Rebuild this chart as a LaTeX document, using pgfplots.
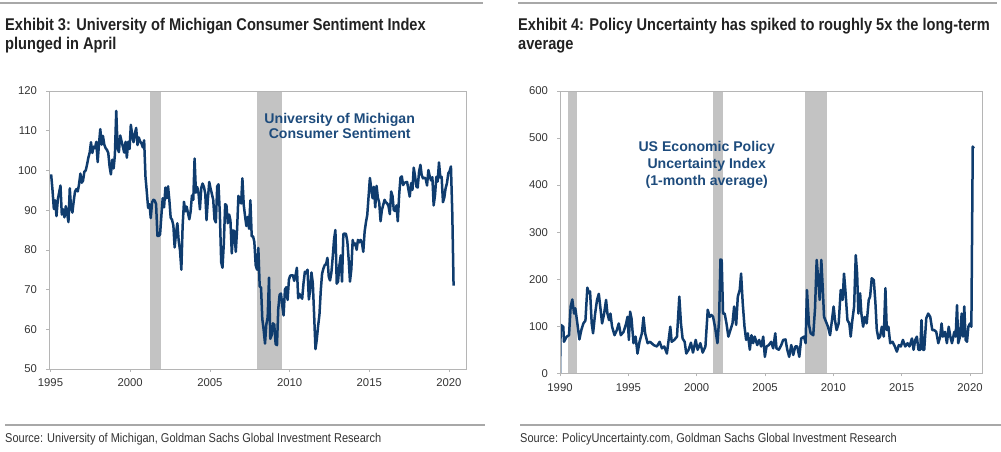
\documentclass[border=0pt]{standalone}
\usepackage{fontspec}
\setmainfont{Liberation Sans}
\newfontfamily\condfont[FakeStretch=0.86]{Liberation Sans}
\usepackage{pgfplots}
\pgfplotsset{compat=1.18}
\definecolor{navy}{HTML}{0F3C6E}
\definecolor{labblue}{HTML}{1D4B7C}
\definecolor{recgray}{HTML}{C3C3C3}
\definecolor{framegray}{HTML}{B5B5B5}
\definecolor{rulegray}{HTML}{A8A8A8}
\definecolor{tickgray}{HTML}{333333}
\definecolor{titlecol}{HTML}{222222}

\pgfplotstableread{
x y
1995.04 99.0
1995.125 95.1
1995.21 90.3
1995.29 92.5
1995.375 88.5
1995.46 92.7
1995.54 94.4
1995.625 96.2
1995.71 88.9
1995.79 90.2
1995.875 88.2
1995.96 91.0
1996.04 89.3
1996.125 87.0
1996.21 95.5
1996.29 90.5
1996.375 89.4
1996.46 92.4
1996.54 94.7
1996.625 95.3
1996.71 94.7
1996.79 96.5
1996.875 99.2
1996.96 96.9
1997.04 97.4
1997.125 99.7
1997.21 100.0
1997.29 101.4
1997.375 103.2
1997.46 104.5
1997.54 107.1
1997.625 104.4
1997.71 106.0
1997.79 105.6
1997.875 107.2
1997.96 102.1
1998.04 106.6
1998.125 110.4
1998.21 106.5
1998.29 108.7
1998.375 106.5
1998.46 105.6
1998.54 105.2
1998.625 104.4
1998.71 100.9
1998.79 99.0
1998.875 102.7
1998.96 100.5
1999.04 103.9
1999.125 115.0
1999.21 105.7
1999.29 104.6
1999.375 108.8
1999.46 107.3
1999.54 106.0
1999.625 104.5
1999.71 107.2
1999.79 103.2
1999.875 107.2
1999.96 105.4
2000.04 111.5
2000.125 109.0
2000.21 107.1
2000.29 109.2
2000.375 110.7
2000.46 106.4
2000.54 108.3
2000.625 107.3
2000.71 106.8
2000.79 105.8
2000.875 107.6
2000.96 98.4
2001.04 94.7
2001.125 90.6
2001.21 91.5
2001.29 88.0
2001.375 92.0
2001.46 92.6
2001.54 92.4
2001.625 91.5
2001.71 83.5
2001.79 83.5
2001.875 83.9
2001.96 88.8
2002.04 93.0
2002.125 90.7
2002.21 95.7
2002.29 93.0
2002.375 96.0
2002.46 92.4
2002.54 88.1
2002.625 87.6
2002.71 86.1
2002.79 80.6
2002.875 84.2
2002.96 86.7
2003.04 82.4
2003.125 79.9
2003.21 75.0
2003.29 86.0
2003.375 92.1
2003.46 89.7
2003.54 90.9
2003.625 89.3
2003.71 87.7
2003.79 89.6
2003.875 93.7
2003.96 92.6
2004.04 103.0
2004.125 94.4
2004.21 95.8
2004.29 94.2
2004.375 90.2
2004.46 95.6
2004.54 96.7
2004.625 95.9
2004.71 94.2
2004.79 87.5
2004.875 92.8
2004.96 97.1
2005.04 95.5
2005.125 94.1
2005.21 92.6
2005.29 87.7
2005.375 86.9
2005.46 96.0
2005.54 96.5
2005.625 89.1
2005.71 76.9
2005.79 75.5
2005.875 81.6
2005.96 91.5
2006.04 91.2
2006.125 86.7
2006.21 88.9
2006.29 87.4
2006.375 79.1
2006.46 84.9
2006.54 84.7
2006.625 79.5
2006.71 85.4
2006.79 93.6
2006.875 92.1
2006.96 91.7
2007.04 98.0
2007.125 91.3
2007.21 88.4
2007.29 86.0
2007.375 88.3
2007.46 85.3
2007.54 92.5
2007.625 83.4
2007.71 83.4
2007.79 82.0
2007.875 76.1
2007.96 75.0
2008.04 80.5
2008.125 70.8
2008.21 70.5
2008.29 62.6
2008.375 59.8
2008.46 56.4
2008.54 61.2
2008.625 63.0
2008.71 73.0
2008.79 57.6
2008.875 58.5
2008.96 61.5
2009.04 61.2
2009.125 56.3
2009.21 56.0
2009.29 65.1
2009.375 68.7
2009.46 69.0
2009.54 66.0
2009.625 63.5
2009.71 70.0
2009.79 70.6
2009.875 67.4
2009.96 72.5
2010.04 73.5
2010.125 73.6
2010.21 73.6
2010.29 72.2
2010.375 73.6
2010.46 75.5
2010.54 67.8
2010.625 68.9
2010.71 68.2
2010.79 67.7
2010.875 71.6
2010.96 74.5
2011.04 74.2
2011.125 75.0
2011.21 67.5
2011.29 69.8
2011.375 74.3
2011.46 71.5
2011.54 63.7
2011.625 55.0
2011.71 57.5
2011.79 60.8
2011.875 63.7
2011.96 69.9
2012.04 74.0
2012.125 75.3
2012.21 76.2
2012.29 76.4
2012.375 78.0
2012.46 73.2
2012.54 72.3
2012.625 74.3
2012.71 78.3
2012.79 82.6
2012.875 85.0
2012.96 71.5
2013.04 72.0
2013.125 76.0
2013.21 78.6
2013.29 72.0
2013.375 84.0
2013.46 84.1
2013.54 84.0
2013.625 82.1
2013.71 77.5
2013.79 72.0
2013.875 75.1
2013.96 82.5
2014.04 81.2
2014.125 81.6
2014.21 80.0
2014.29 82.5
2014.375 81.9
2014.46 82.5
2014.54 81.8
2014.625 79.5
2014.71 84.6
2014.79 86.9
2014.875 88.8
2014.96 93.6
2015.04 98.1
2015.125 95.4
2015.21 93.0
2015.29 95.9
2015.375 90.7
2015.46 96.1
2015.54 93.1
2015.625 91.9
2015.71 87.2
2015.79 90.0
2015.875 91.3
2015.96 92.6
2016.04 92.0
2016.125 91.7
2016.21 91.0
2016.29 89.0
2016.375 94.7
2016.46 93.5
2016.54 90.0
2016.625 89.8
2016.71 91.2
2016.79 87.2
2016.875 93.8
2016.96 98.2
2017.04 98.5
2017.125 96.3
2017.21 96.9
2017.29 97.0
2017.375 97.1
2017.46 95.1
2017.54 93.4
2017.625 96.8
2017.71 95.1
2017.79 100.7
2017.875 98.5
2017.96 95.9
2018.04 95.7
2018.125 99.7
2018.21 101.4
2018.29 98.8
2018.375 98.0
2018.46 98.2
2018.54 97.9
2018.625 96.2
2018.71 100.1
2018.79 98.6
2018.875 97.5
2018.96 98.3
2019.04 91.2
2019.125 93.8
2019.21 98.4
2019.29 97.2
2019.375 102.0
2019.46 98.2
2019.54 98.4
2019.625 92.0
2019.71 93.2
2019.79 95.5
2019.875 96.8
2019.96 99.3
2020.04 99.8
2020.125 101.0
2020.21 89.1
2020.29 71.0
}\umich

\pgfplotstableread{
x y
1990.00 0
1990.05 103
1990.24 99
1990.29 67
1990.49 78
1990.66 81
1990.78 142
1990.90 157
1991.03 127
1991.12 138
1991.27 106
1991.42 72
1991.56 92
1991.71 106
1991.86 112
1992.00 182
1992.13 170
1992.20 174
1992.32 106
1992.42 85
1992.57 127
1992.71 156
1992.84 169
1992.96 138
1993.08 106
1993.23 127
1993.37 156
1993.47 127
1993.59 113
1993.69 127
1993.81 99
1993.99 81
1994.16 92
1994.30 106
1994.45 81
1994.65 88
1994.84 106
1994.94 120
1995.04 71
1995.13 131
1995.23 117
1995.38 64
1995.53 78
1995.67 42
1995.82 67
1995.99 85
1996.11 119
1996.23 85
1996.41 64
1996.60 67
1996.85 60
1997.09 57
1997.29 67
1997.46 53
1997.63 57
1997.82 42
1997.95 71
1998.07 99
1998.17 67
1998.36 71
1998.56 78
1998.73 163
1998.85 106
1998.97 74
1999.12 67
1999.24 42
1999.41 50
1999.58 65
1999.73 44
1999.93 71
2000.07 50
2000.27 64
2000.44 44
2000.64 57
2000.81 135
2000.95 120
2001.08 124
2001.20 120
2001.34 99
2001.52 64
2001.64 113
2001.74 242
2001.83 241
2001.93 127
2002.05 127
2002.18 106
2002.32 78
2002.47 92
2002.62 106
2002.74 142
2002.89 103
2003.01 163
2003.15 177
2003.25 212
2003.37 149
2003.50 99
2003.62 71
2003.74 85
2003.89 50
2004.01 81
2004.13 64
2004.25 78
2004.43 60
2004.57 71
2004.72 57
2004.87 78
2004.99 35
2005.11 57
2005.28 60
2005.45 67
2005.60 53
2005.75 85
2005.84 53
2006.01 50
2006.19 60
2006.33 71
2006.50 72
2006.63 50
2006.77 35
2006.92 60
2007.07 39
2007.21 57
2007.36 57
2007.51 35
2007.65 74
2007.85 78
2007.97 64
2008.07 177
2008.22 103
2008.34 85
2008.53 81
2008.66 138
2008.78 241
2008.90 198
2009.00 156
2009.12 241
2009.22 184
2009.32 120
2009.46 110
2009.61 99
2009.76 81
2009.90 113
2010.02 142
2010.12 113
2010.24 92
2010.39 106
2010.54 177
2010.68 156
2010.78 212
2010.88 177
2011.03 113
2011.17 106
2011.27 78
2011.39 113
2011.52 142
2011.64 251
2011.74 212
2011.83 127
2011.96 170
2012.05 127
2012.18 99
2012.30 120
2012.44 106
2012.59 156
2012.69 163
2012.81 202
2012.96 198
2013.08 149
2013.18 92
2013.30 74
2013.42 78
2013.55 99
2013.69 78
2013.81 181
2013.91 92
2014.03 99
2014.16 64
2014.33 67
2014.50 57
2014.65 46
2014.79 60
2014.94 57
2015.09 71
2015.26 57
2015.43 64
2015.57 57
2015.75 74
2015.87 50
2015.99 71
2016.11 78
2016.23 50
2016.36 50
2016.45 113
2016.55 50
2016.65 50
2016.80 117
2016.94 127
2017.09 120
2017.24 92
2017.38 92
2017.53 88
2017.68 64
2017.82 78
2017.92 106
2018.02 78
2018.17 88
2018.31 64
2018.44 99
2018.56 78
2018.68 64
2018.85 88
2018.95 78
2019.05 145
2019.14 64
2019.27 78
2019.39 127
2019.49 78
2019.58 142
2019.68 71
2019.78 67
2019.88 99
2020.00 106
2020.10 99
2020.20 482
2020.27 478
}\epu

\pgfplotsset{
  gsaxis/.style={
    scale only axis,
    anchor=south west,
    axis on top,
    axis line style={draw=framegray, line width=0.8pt},
    tick style={draw=framegray, line width=0.6pt},
    tick align=outside,
    tick pos=left,
    major tick length=3pt,
    ticklabel style={font=\fontsize{11.3}{13}\selectfont, text=tickgray},
    yticklabel style={xshift=-5.5pt},
    xticklabel style={yshift=-3.5pt},
    /pgf/number format/.cd, 1000 sep={}, assume math mode=true,
  }
}

\begin{document}
\begin{tikzpicture}
\path[use as bounding box] (0pt,0pt) rectangle (1001pt,451pt);

% top rules
\draw[rulegray, line width=1.2pt] (0pt,448pt) -- (483pt,448pt);
\draw[rulegray, line width=1.2pt] (518pt,448pt) -- (997pt,448pt);

% titles
\node[anchor=base west, inner sep=0pt, text=titlecol, font=\condfont\bfseries\fontsize{17}{19}\selectfont] at (5pt,420.3pt) {Exhibit 3: University of Michigan Consumer Sentiment Index};
\node[anchor=base west, inner sep=0pt, text=titlecol, font=\condfont\bfseries\fontsize{17}{19}\selectfont] at (5pt,401pt) {plunged in April};
\node[anchor=base west, inner sep=0pt, text=titlecol, font=\condfont\bfseries\fontsize{17}{19}\selectfont] at (518pt,420.3pt) {Exhibit 4: Policy Uncertainty has spiked to roughly 5x the long-term};
\node[anchor=base west, inner sep=0pt, text=titlecol, font=\condfont\bfseries\fontsize{17}{19}\selectfont] at (518pt,401pt) {average};

% bottom rules and sources
\draw[rulegray, line width=1.2pt] (5pt,26pt) -- (485pt,26pt);
\draw[rulegray, line width=1.2pt] (520pt,26pt) -- (1001pt,26pt);
\node[anchor=west, inner sep=0pt, text=tickgray, font=\condfont\fontsize{12.8}{14}\selectfont] at (5pt,12pt) {Source: University of Michigan, Goldman Sachs Global Investment Research};
\node[anchor=west, inner sep=0pt, text=tickgray, font=\condfont\fontsize{12.8}{14}\selectfont] at (520pt,12pt) {Source: PolicyUncertainty.com, Goldman Sachs Global Investment Research};

% left chart
\begin{axis}[gsaxis, at={(49pt,82pt)}, width=417pt, height=278pt,
  xmin=1994.906, xmax=2021.07, ymin=50, ymax=120,
  xtick={1995,2000,2005,2010,2015,2020},
  ytick={50,60,70,80,90,100,110,120}]
\addplot[fill=recgray, draw=none] coordinates {(2001.22,50) (2001.22,120) (2001.91,120) (2001.91,50)} --cycle;
\addplot[fill=recgray, draw=none] coordinates {(2007.95,50) (2007.95,120) (2009.5,120) (2009.5,50)} --cycle;
\addplot[navy, line width=2.5pt, line join=round, mark=none] table {\umich};
\end{axis}
\node[align=center, text=labblue, font=\bfseries\fontsize{14.1}{15}\selectfont] at (339.7pt,325.2pt) {University of Michigan\\Consumer Sentiment};

% right chart
\begin{axis}[gsaxis, at={(560pt,77.7pt)}, width=422.3pt, height=282.3pt,
  xmin=1990, xmax=2020.9, ymin=0, ymax=600,
  xtick={1990,1995,2000,2005,2010,2015,2020},
  ytick={0,100,200,300,400,500,600}]
\addplot[fill=recgray, draw=none] coordinates {(1990.6,0) (1990.6,600) (1991.25,600) (1991.25,0)} --cycle;
\addplot[fill=recgray, draw=none] coordinates {(2001.2,0) (2001.2,600) (2001.9,600) (2001.9,0)} --cycle;
\addplot[fill=recgray, draw=none] coordinates {(2007.95,0) (2007.95,600) (2009.5,600) (2009.5,0)} --cycle;
\addplot[navy, line width=2.5pt, line join=round, mark=none] table {\epu};
\end{axis}
\node[align=center, text=labblue, font=\bfseries\fontsize{14.1}{16.7}\selectfont] at (706.7pt,286pt) {US Economic Policy\\Uncertainty Index\\(1-month average)};
\end{tikzpicture}
\end{document}
